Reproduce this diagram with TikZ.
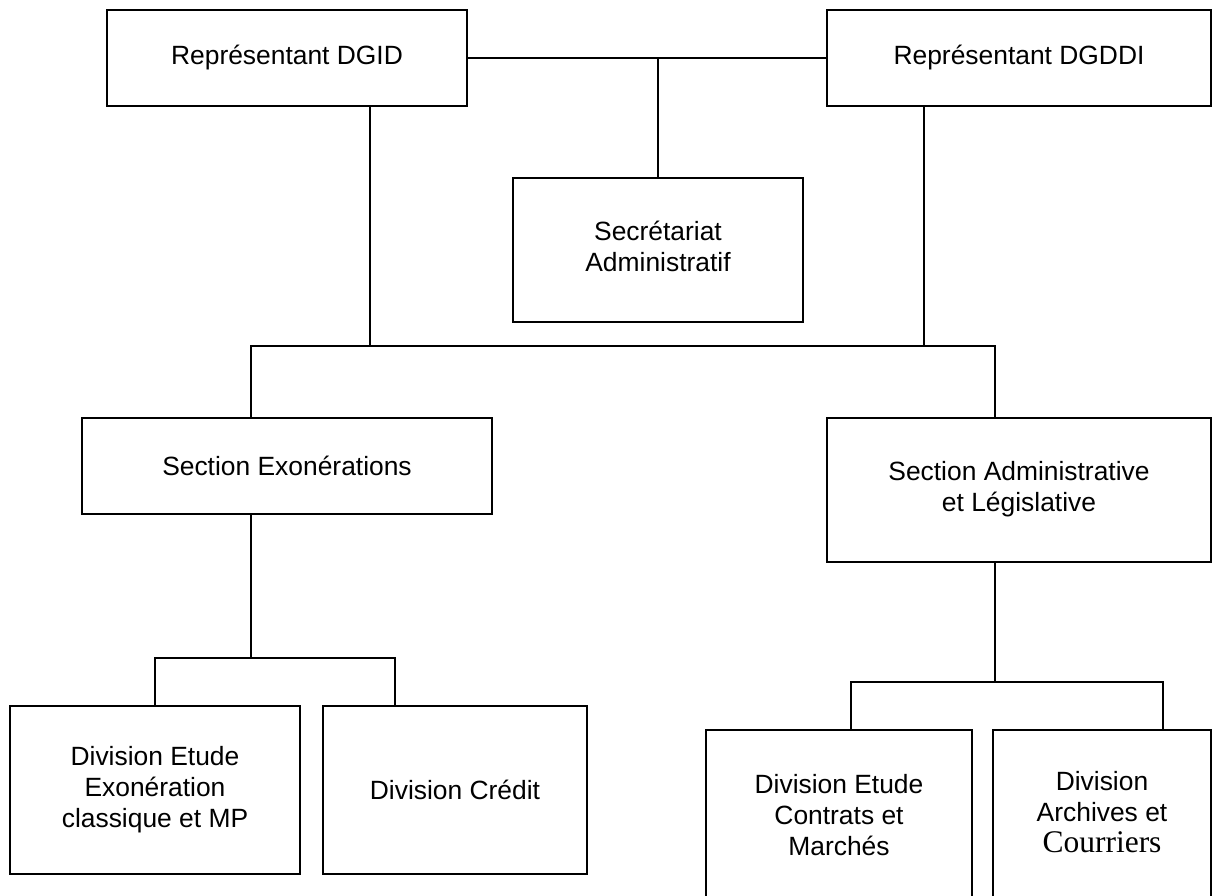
\documentclass[tikz,border=0pt]{standalone}
\usepackage{fontspec}
\setmainfont{Liberation Sans}
\newfontfamily\timesfont{Liberation Serif}
\usepackage{tikz}
\usetikzlibrary{positioning, calc}

\begin{document}
\begin{tikzpicture}[x=1pt,y=-1pt,
    box/.style={draw, line width=1.6pt, inner sep=0pt, align=center,
      font=\fontsize{26.4}{31}\selectfont},
    link/.style={line width=1.6pt}]
      \useasboundingbox (0,0) rectangle (1218,895);
      \clip (0,0) rectangle (1218,895);

      \node[box, minimum width=360, minimum height=96] (dgid) at (287,58) {Représentant DGID};
      \node[box, minimum width=384, minimum height=96] (dgddi) at (1019,58) {Représentant DGDDI};
      \node[box, minimum width=290, minimum height=144] (secr) at (658,250)
        {\raisebox{15pt}{\begin{tabular}{@{}c@{}}Secrétariat\\Administratif\end{tabular}}};

      \node[box, minimum width=410, minimum height=96] (exo) at (287,466) {Section Exonérations};
      \node[box, minimum width=384, minimum height=144] (adm) at (1019,490)
        {\raisebox{18pt}{\begin{tabular}{@{}c@{}}Section Administrative\\et Législative\end{tabular}}};

      \node[box, minimum width=290, minimum height=168] (etudeexo) at (155,790)
        {Division Etude\\Exonération\\classique et MP};
      \node[box, minimum width=264, minimum height=168] (credit) at (455,790) {Division Crédit};
      \node[box, minimum width=266, minimum height=170] (contrats) at (839,815)
        {Division Etude\\Contrats et\\Marchés};
      \node[box, minimum width=218, minimum height=170] (archives) at (1102,815)
        {\begin{tabular}{@{}c@{}}Division\\Archives et\\{\timesfont\fontsize{31.5}{31}\selectfont Courriers}\end{tabular}};

      \coordinate (gauche) at (370,346);
      \coordinate (droite) at (924,346);
      \coordinate (barL) at (251,346);
      \coordinate (barR) at (995,346);
      \coordinate (exoB) at (251,658);
      \coordinate (exoL) at (155,658);
      \coordinate (exoR) at (395,658);
      \coordinate (admB) at (995,682);
      \coordinate (admL) at (851,682);
      \coordinate (admR) at (1163,682);

      \draw[link] (dgid.east) -- (dgddi.west);
      \draw[link] (secr.north) -- (secr.north |- dgid.east);
      \draw[link] (gauche |- dgid.south) -- (gauche);
      \draw[link] (droite |- dgddi.south) -- (droite);
      \draw[link] (barL |- exo.north) -- (barL) -- (barR) -- (barR |- adm.north);

      \draw[link] (exoB |- exo.south) -- (exoB);
      \draw[link] (exoL |- etudeexo.north) -- (exoL) -- (exoR) -- (exoR |- credit.north);

      \draw[link] (admB |- adm.south) -- (admB);
      \draw[link] (admL |- contrats.north) -- (admL) -- (admR) -- (admR |- archives.north);
    \end{tikzpicture}
\end{document}
